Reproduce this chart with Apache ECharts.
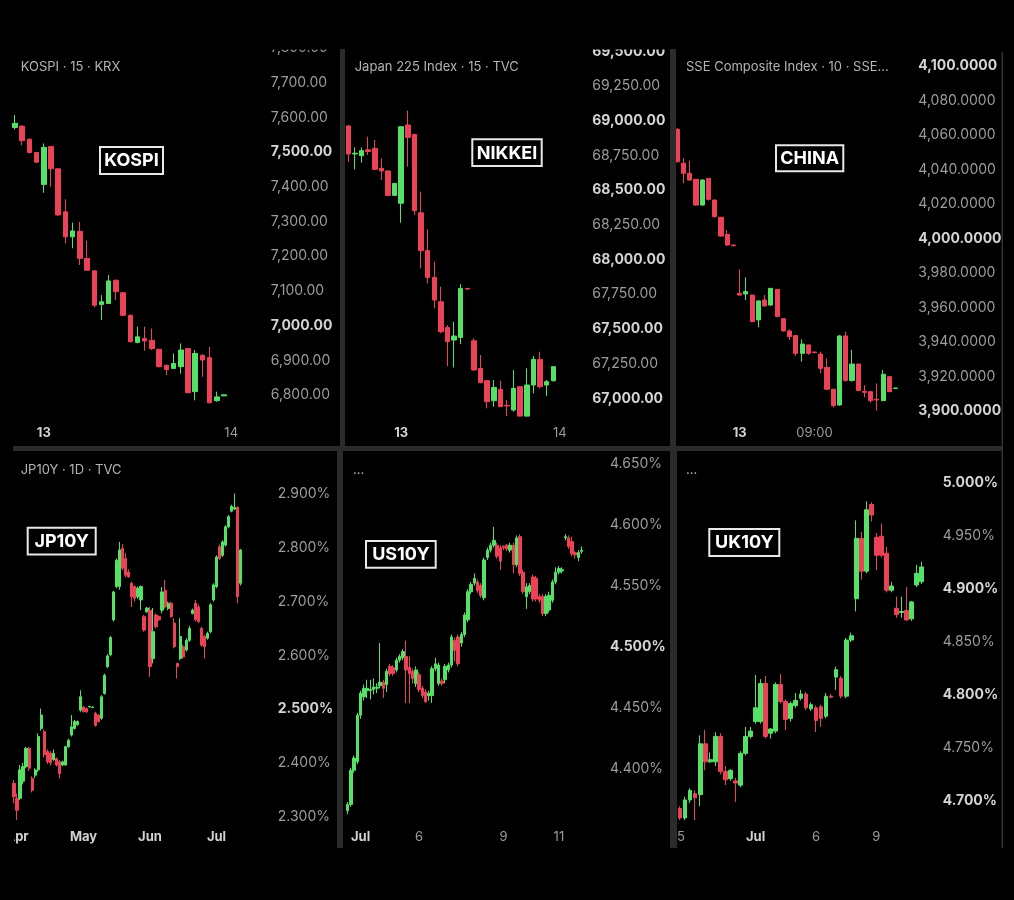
<!DOCTYPE html>
<html><head><meta charset="utf-8">
<script src="https://cdn.jsdelivr.net/npm/echarts@6/dist/echarts.min.js"></script>
<style>html,body{margin:0;padding:0;background:#000;}#c{width:1014px;height:900px;}</style>
</head><body><div id="c"></div>
<script>
// ---------- DATA (rows are [open, high, low, close]) ----------
const kospiOHLC = [
[7571,7607,7565,7583],[7575,7577,7520,7533],[7537,7540,7496,7499],[7499,7501,7469,7471],
[7407,7525,7383,7514],[7516,7518,7400,7452],[7452,7454,7317,7319],[7328,7364,7237,7256],
[7256,7297,7223,7273],[7272,7299,7175,7194],[7194,7245,7158,7160],[7158,7160,7053,7059],
[7061,7088,7016,7069],[7064,7146,7062,7129],[7131,7133,7074,7098],[7095,7097,7028,7030],
[7030,7032,6952,6954],[6952,6997,6949,6968],[6963,6997,6928,6956],[6958,6992,6930,6934],
[6932,6934,6880,6882],[6886,6888,6858,6874],[6877,6920,6875,6891],[6882,6949,6862,6930],
[6934,6936,6805,6807],[6810,6930,6785,6920],[6915,6917,6853,6901],[6908,6939,6776,6778],
[6784,6810,6781,6795],[6798,6802,6797,6801]
];
const kospiXTicks = [[4,'13'],[30,'14']];

const nikkeiOHLC = [
[68962,68970,68705,68760],[68760,68808,68650,68766],[68748,68808,68698,68784],[68790,68885,68753,68778],
[68801,68861,68645,68650],[68657,68729,68573,68638],[68638,68645,68455,68462],[68462,68551,68458,68549],
[68405,68962,68265,68957],[68969,69072,68669,68880],[68902,68904,68321,68352],[68337,68489,67936,68064],
[68064,68217,67828,67871],[67871,67984,67648,67708],[67696,67804,67468,67480],[67511,67528,67233,67408],
[67420,67552,67223,67449],[67439,67823,67391,67792],[67792,67794,67785,67787],[67415,67432,67199,67204],
[67216,67312,67108,67113],[67127,67129,66928,66976],[66983,67132,66940,67079],[67065,67127,66938,66940],
[66950,66988,66872,66945],[66916,67204,66904,67072],[67084,67089,66870,66872],[66872,67216,66870,67096],
[67096,67305,67036,67281],[67281,67336,67072,67084],[67096,67132,67017,67120],[67127,67233,67120,67228]
];
const nikkeiXTicks = [[8,'13'],[32,'14']];

const chinaOHLC = [
[4063.3,4064,4044,4044.5],[4043.6,4046.5,4032,4037.8],[4037.8,4045.1,4033.5,4033.9],[4034.3,4034.5,4019,4019.4],
[4019.4,4034.3,4019,4033.9],[4034.9,4035,4022,4022.7],[4022.3,4022.5,4012,4012.7],[4012.3,4012.5,4001,4001.4],
[4002.4,4004.9,3995.7,3996.2],[3996.2,3996.5,3995.5,3995.8],[3968.2,3982.1,3967,3967.2],[3967.8,3977.5,3964.3,3969.2],
[3967.2,3967.4,3951.5,3951.8],[3952.8,3964,3948.5,3963.8],[3964.3,3967.2,3960.5,3960.9],[3961.4,3971.3,3961,3971.1],
[3970.5,3970.7,3954.3,3954.7],[3953.5,3953.7,3946,3946.4],[3946.4,3947.3,3941.2,3943.1],[3943.7,3943.9,3931.9,3933.4],
[3933.4,3941.5,3928.6,3938.8],[3938.3,3938.5,3932.5,3933.4],[3934.2,3934.4,3933.6,3933.8],[3933,3934.4,3921.8,3924.7],
[3925.3,3930.5,3912.2,3912.6],[3912.6,3912.8,3902.1,3903.1],[3903.5,3944,3903,3943.5],[3943.5,3946,3917,3917.6],
[3917.6,3935.4,3917,3927.2],[3927.2,3927.4,3911.5,3911.8],[3911.4,3915,3907.9,3910.8],[3911.2,3911.8,3904.8,3906],
[3906.8,3916,3900.2,3906.4],[3906,3923.8,3905.8,3921.3],[3919.9,3920.2,3910.9,3911.2],[3913,3913.5,3912.8,3913.3]
];
const chinaXTicks = [[10,'13'],[22,'09:00']];

const jp10yOHLC = [
[2.362,2.368,2.325,2.337],[2.334,2.343,2.294,2.312],[2.334,2.396,2.331,2.387],[2.366,2.400,2.360,2.393],
[2.393,2.430,2.390,2.427],[2.427,2.430,2.385,2.390],[2.371,2.375,2.345,2.349],[2.377,2.390,2.372,2.387],
[2.387,2.455,2.383,2.449],[2.464,2.501,2.460,2.489],[2.458,2.462,2.410,2.415],[2.421,2.425,2.398,2.402],
[2.418,2.422,2.395,2.400],[2.406,2.425,2.404,2.418],[2.408,2.410,2.393,2.396],[2.402,2.405,2.371,2.380],
[2.396,2.404,2.394,2.402],[2.396,2.432,2.395,2.430],[2.430,2.445,2.428,2.442],[2.452,2.489,2.449,2.467],
[2.464,2.480,2.462,2.477],[2.471,2.479,2.469,2.477],[2.498,2.535,2.495,2.523],[2.504,2.506,2.494,2.495],
[2.501,2.503,2.493,2.495],[2.504,2.506,2.503,2.505],[2.503,2.505,2.502,2.504],[2.492,2.495,2.467,2.470],
[2.489,2.490,2.475,2.477],[2.483,2.526,2.480,2.523],[2.529,2.566,2.527,2.563],[2.579,2.602,2.576,2.599],
[2.601,2.636,2.598,2.633],[2.666,2.720,2.663,2.718],[2.728,2.780,2.725,2.777],[2.728,2.811,2.722,2.796],
[2.799,2.807,2.758,2.762],[2.780,2.790,2.745,2.749],[2.755,2.760,2.744,2.746],[2.734,2.737,2.690,2.709],
[2.728,2.730,2.700,2.706],[2.709,2.728,2.705,2.725],[2.703,2.730,2.684,2.728],[2.672,2.675,2.644,2.647],
[2.681,2.690,2.679,2.688],[2.684,2.690,2.560,2.579],[2.594,2.688,2.585,2.644],[2.675,2.678,2.650,2.653],
[2.672,2.674,2.664,2.666],[2.684,2.727,2.678,2.718],[2.721,2.740,2.687,2.690],[2.687,2.700,2.684,2.697],
[2.697,2.700,2.670,2.672],[2.660,2.669,2.613,2.616],[2.585,2.586,2.557,2.579],[2.594,2.669,2.591,2.635],
[2.616,2.620,2.594,2.597],[2.610,2.632,2.607,2.628],[2.628,2.655,2.625,2.650],[2.678,2.687,2.676,2.684],
[2.697,2.703,2.663,2.666],[2.690,2.694,2.660,2.663],[2.650,2.653,2.616,2.619],[2.635,2.638,2.594,2.616],
[2.632,2.644,2.629,2.641],[2.644,2.697,2.641,2.694],[2.703,2.734,2.700,2.731],[2.728,2.786,2.725,2.783],
[2.802,2.806,2.777,2.780],[2.786,2.814,2.783,2.811],[2.805,2.842,2.802,2.839],[2.839,2.861,2.836,2.858],
[2.868,2.880,2.866,2.877],[2.872,2.901,2.870,2.875],[2.875,2.877,2.697,2.709],[2.734,2.798,2.730,2.796]
];
const jp10yXTicks = [[1,'Apr'],[23,'May'],[45,'Jun'],[67,'Jul']];

const us10yOHLC = [
[4.366,4.373,4.363,4.371],[4.371,4.401,4.369,4.399],[4.399,4.411,4.397,4.409],[4.406,4.446,4.404,4.444],
[4.444,4.464,4.441,4.462],[4.459,4.469,4.456,4.466],[4.464,4.473,4.458,4.466],[4.464,4.473,4.457,4.465],
[4.465,4.474,4.461,4.467],[4.466,4.470,4.462,4.467],[4.468,4.503,4.466,4.471],[4.471,4.473,4.458,4.466],
[4.469,4.482,4.463,4.480],[4.484,4.486,4.476,4.478],[4.483,4.485,4.476,4.478],[4.481,4.491,4.479,4.489],
[4.489,4.494,4.487,4.492],[4.491,4.498,4.489,4.496],[4.492,4.505,4.454,4.481],[4.483,4.492,4.454,4.478],
[4.480,4.482,4.470,4.474],[4.470,4.484,4.467,4.481],[4.477,4.479,4.463,4.465],[4.466,4.468,4.458,4.460],
[4.463,4.465,4.454,4.455],[4.460,4.464,4.456,4.462],[4.460,4.484,4.454,4.482],[4.482,4.491,4.480,4.486],
[4.470,4.487,4.468,4.485],[4.472,4.474,4.468,4.470],[4.473,4.486,4.470,4.484],[4.481,4.487,4.479,4.485],
[4.485,4.510,4.483,4.508],[4.505,4.507,4.488,4.497],[4.508,4.510,4.484,4.486],[4.503,4.512,4.500,4.510],
[4.510,4.528,4.508,4.526],[4.522,4.547,4.520,4.545],[4.545,4.553,4.543,4.551],[4.552,4.560,4.550,4.556],
[4.553,4.555,4.544,4.546],[4.550,4.552,4.540,4.542],[4.540,4.573,4.538,4.571],[4.573,4.581,4.571,4.579],
[4.579,4.585,4.577,4.583],[4.583,4.598,4.581,4.587],[4.583,4.585,4.572,4.574],[4.581,4.583,4.563,4.570],
[4.582,4.583,4.579,4.581],[4.583,4.584,4.578,4.580],[4.579,4.585,4.577,4.583],[4.583,4.585,4.560,4.567],
[4.567,4.591,4.565,4.589],[4.590,4.592,4.558,4.560],[4.561,4.563,4.543,4.545],[4.541,4.552,4.531,4.549],
[4.545,4.552,4.543,4.550],[4.557,4.559,4.537,4.539],[4.556,4.558,4.537,4.539],[4.541,4.543,4.536,4.538],
[4.541,4.543,4.525,4.527],[4.527,4.543,4.525,4.541],[4.530,4.545,4.528,4.542],[4.538,4.555,4.536,4.553],
[4.553,4.565,4.551,4.561],[4.561,4.566,4.559,4.564],[4.562,4.565,4.560,4.563],[4.589,4.592,4.587,4.590],
[4.589,4.591,4.580,4.582],[4.586,4.590,4.574,4.576],[4.577,4.578,4.572,4.575],[4.573,4.579,4.570,4.577],
[4.578,4.582,4.576,4.579]
];
const us10yXTicks = [[4,'Jul'],[22,'6'],[48,'9'],[65,'11']];

const uk10yOHLC = [
[4.693,4.695,4.682,4.684],[4.684,4.704,4.682,4.701],[4.701,4.712,4.698,4.710],[4.707,4.710,4.682,4.703],
[4.706,4.762,4.695,4.754],[4.754,4.767,4.729,4.737],[4.737,4.746,4.736,4.739],[4.737,4.765,4.733,4.761],
[4.761,4.764,4.725,4.728],[4.728,4.733,4.715,4.720],[4.721,4.730,4.719,4.729],[4.719,4.722,4.699,4.717],
[4.715,4.747,4.713,4.745],[4.745,4.770,4.743,4.761],[4.761,4.770,4.759,4.766],[4.775,4.819,4.773,4.788],
[4.775,4.815,4.773,4.811],[4.811,4.818,4.759,4.761],[4.764,4.769,4.759,4.768],[4.766,4.812,4.764,4.810],
[4.810,4.820,4.792,4.794],[4.794,4.796,4.767,4.777],[4.778,4.794,4.775,4.792],[4.790,4.802,4.788,4.795],
[4.797,4.805,4.795,4.801],[4.801,4.803,4.786,4.788],[4.787,4.793,4.785,4.791],[4.788,4.790,4.765,4.776],
[4.789,4.791,4.770,4.778],[4.780,4.802,4.778,4.799],[4.799,4.801,4.797,4.798],[4.817,4.827,4.805,4.824],
[4.816,4.818,4.797,4.799],[4.799,4.854,4.797,4.852],[4.852,4.859,4.850,4.856],[4.891,4.965,4.879,4.948],
[4.948,4.954,4.909,4.917],[4.917,4.983,4.915,4.975],[4.980,4.982,4.964,4.970],[4.949,4.953,4.918,4.932],
[4.950,4.962,4.930,4.932],[4.934,4.940,4.897,4.899],[4.899,4.907,4.897,4.903],[4.882,4.893,4.873,4.876],
[4.878,4.893,4.873,4.879],[4.880,4.902,4.870,4.871],[4.872,4.889,4.870,4.888],[4.904,4.923,4.902,4.915],
[4.907,4.926,4.905,4.921]
];
const uk10yXTicks = [[0,'25'],[15,'Jul'],[27,'6'],[39,'9']];

const panelTitles = ['KOSPI · 15 · KRX','Japan 225 Index · 15 · TVC','SSE Composite Index · 10 · SSE...','JP10Y · 1D · TVC','...','...'];
const panelTags = ['KOSPI','NIKKEI','CHINA','JP10Y','US10Y','UK10Y'];

// ---------- LAYOUT / STYLE ----------
const UP = '#55e066', DOWN = '#ec4257';
const FONT = 'Inter';
const BOLD_X = ['13','Apr','May','Jun','Jul'];

const panels = [
 {ohlc:kospiOHLC, ticks:kospiXTicks, left:11.4, step:7.207, n:34, top:48.0, bottom:412.5,
  y:{min:6750,max:7800,interval:50,show:100,bold:500,dec:2,pct:false}, bw:5, xm:13.7, ym:14.3,
  title:[20.7,67], tag:[100,147,63,27]},
 {ohlc:nikkeiOHLC, ticks:nikkeiXTicks, left:345.0, step:6.613, n:35, top:51.3, bottom:415.7,
  y:{min:66875,max:69500,interval:125,show:250,bold:500,dec:2,pct:false}, bw:5, xm:10.5, ym:15.8,
  title:[354.7,67], tag:[472.3,139.3,69.4,26.7]},
 {ohlc:chinaOHLC, ticks:chinaXTicks, left:674.2, step:6.238, n:37, top:48.75, bottom:419.6,
  y:{min:3895,max:4110,interval:5,show:20,bold:100,dec:4,pct:false}, bw:4.6, xm:6.6, ym:13.3,
  title:[686,67], tag:[776,145.3,67.3,26]},
 {ohlc:jp10yOHLC, ticks:jp10yXTicks, left:12.5, step:3.022, n:83, top:453.7, bottom:830.1,
  y:{min:2.275,max:2.975,interval:0.025,show:0.1,bold:0.5,dec:3,pct:true}, bw:2.7, xm:0.1, ym:14.4,
  title:[20.7,470.5], tag:[27.7,527.7,68,26.7]},
 {ohlc:us10yOHLC, ticks:us10yXTicks, left:346.0, step:3.25, n:77, top:451.1, bottom:817.9,
  y:{min:4.36,max:4.66,interval:0.01,show:0.05,bold:0.5,dec:3,pct:true}, bw:2.8, xm:12.3, ym:13.8,
  title:[353,470], tag:[366,541,69.7,26.7]},
 {ohlc:uk10yOHLC, ticks:uk10yXTicks, left:677.5, step:5.035, n:50, top:451.5, bottom:822.2,
  y:{min:4.68,max:5.03,interval:0.01,show:0.05,bold:0.1,dec:3,pct:true}, bw:4.2, xm:8, ym:13.4,
  title:[686,470], tag:[709.3,529,70,27]}
];

function isMult(v, s){ const r = v / s; return Math.abs(r - Math.round(r)) < 1e-4; }
function fmtNum(v, dec){
  const s = v.toFixed(dec); const parts = s.split('.');
  parts[0] = parts[0].replace(/\B(?=(\d{3})+(?!\d))/g, ',');
  return parts.join('.');
}

const grids = [], xAxes = [], yAxes = [], series = [], graphics = [];
panels.forEach((p, i) => {
  grids.push({left:p.left, top:p.top, width:p.n * p.step, height:p.bottom - p.top, containLabel:false});
  const cats = new Array(p.n).fill('');
  p.ticks.forEach(t => { cats[t[0]] = t[1]; });
  xAxes.push({
    type:'category', gridIndex:i, data:cats, boundaryGap:true,
    axisLine:{show:false}, axisTick:{show:false}, splitLine:{show:false},
    axisLabel:{interval:0, margin:p.xm, fontFamily:FONT, fontSize:13, color:'#9c9c9c',
      formatter: v => {
        if (!v) return '';
        if (v === '25') return '{s|' + v + '}';
        return BOLD_X.indexOf(v) >= 0 ? '{b|' + v + '}' : '{n|' + v + '}';
      },
      rich:{
        b:{fontFamily:FONT, fontSize:13, fontWeight:'bold', color:'#d2d2d2'},
        n:{fontFamily:FONT, fontSize:13, color:'#9c9c9c'},
        s:{fontFamily:FONT, fontSize:13, color:'#9c9c9c', padding:[0,6,0,0]}
      }
    }
  });
  const y = p.y;
  yAxes.push({
    type:'value', gridIndex:i, position:'right', min:y.min, max:y.max, interval:y.interval,
    axisLine:{show:false}, axisTick:{show:false}, splitLine:{show:false},
    axisLabel:{margin:p.ym, fontFamily:FONT, fontSize:14, color:'#9c9c9c', showMinLabel:true, showMaxLabel:true,
      formatter: v => {
        if (!isMult(v, y.show)) return '';
        const s = y.pct ? v.toFixed(y.dec) + '%' : fmtNum(v, y.dec);
        return isMult(v, y.bold) ? '{b|' + s + '}' : '{n|' + s + '}';
      },
      rich:{
        b:{fontFamily:FONT, fontSize:14, fontWeight:'bold', color:'#d4d4d4'},
        n:{fontFamily:FONT, fontSize:14, color:'#9c9c9c'}
      }
    }
  });
  series.push({
    type:'candlestick', xAxisIndex:i, yAxisIndex:i, barWidth:p.bw,
    data:p.ohlc.map(r => [r[0], r[3], r[2], r[1]]),
    itemStyle:{color:UP, color0:DOWN, borderColor:UP, borderColor0:DOWN, borderColorDoji:UP, borderWidth:1}
  });
  graphics.push({type:'text', x:p.title[0], y:p.title[1], z:60,
    style:{text:panelTitles[i], fill:'#b4b4b4', fontFamily:FONT, fontSize:13,
      align:'left', verticalAlign:'middle', textAlign:'left', textVerticalAlign:'middle'}});
  const t = p.tag;
  graphics.push({type:'rect', shape:{x:t[0], y:t[1], width:t[2], height:t[3]}, z:60,
    style:{fill:'#000', stroke:'#e8e8e8', lineWidth:2}});
  graphics.push({type:'text', x:t[0] + t[2] / 2, y:t[1] + t[3] / 2 + 0.5, z:61,
    style:{text:panelTags[i], fill:'#ffffff', fontFamily:FONT, fontSize:18, fontWeight:'bold',
      align:'center', verticalAlign:'middle', textAlign:'center', textVerticalAlign:'middle'}});
});

// masks and separators
const SEP = '#2b2b2b';
const rects = [
  [0, 0, 1014, 49.5, '#000'],          // top mask
  [0, 822, 14, 28, '#000'],            // left clip of bottom-left time labels
  [266, 821, 70, 27, '#000'],          // JP10Y price-scale clip
  [13, 446, 990, 5, SEP],              // horizontal separator
  [340, 49, 5, 397, SEP],
  [670, 49, 6, 397, SEP],
  [337, 451, 6, 397, SEP],
  [670, 451, 7, 397, SEP],
  [1001.5, 52, 1.5, 796, '#333']
];
rects.forEach(r => graphics.push({type:'rect', z:100, shape:{x:r[0], y:r[1], width:r[2], height:r[3]}, style:{fill:r[4]}}));

const chart = echarts.init(document.getElementById('c'), null, {renderer:'canvas'});
chart.setOption({
  backgroundColor:'#000', animation:false,
  grid:grids, xAxis:xAxes, yAxis:yAxes, series:series,
  graphic:{elements:graphics}
});
</script></body></html>
